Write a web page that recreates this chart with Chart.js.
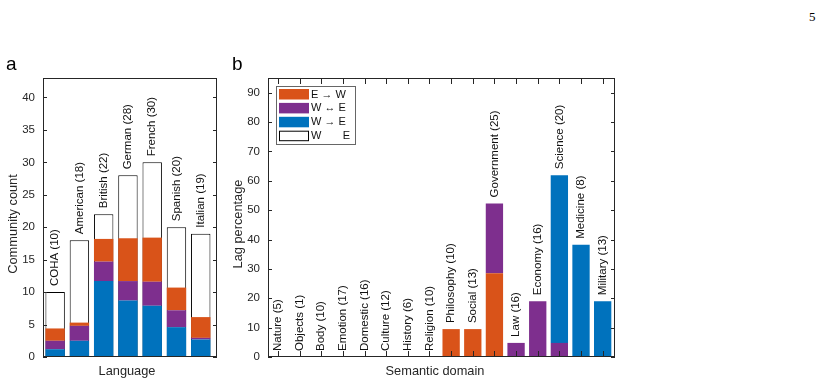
<!DOCTYPE html>
<html>
<head>
<meta charset="utf-8">
<script src="https://cdn.jsdelivr.net/npm/chart.js@4.4.0/dist/chart.umd.min.js"></script>
<style>
    body { margin: 0; background: #fff; width: 829px; height: 385px; position: relative; overflow: hidden; font-family: "Liberation Sans", Arial, sans-serif; }
    .box { position: absolute; top: 0; height: 385px; }
    #boxA { left: 0; width: 225px; }
    #boxB { left: 225px; width: 400px; }
    .tag { position: absolute; font-size: 19px; color: #000; line-height: 1; }
    #page { position: absolute; left: 809px; top: 9px; font-family: "Liberation Serif", serif; font-size: 13px; }
</style>
</head>
<body>
<div class="box" id="boxA"><canvas id="chartA"></canvas></div>
<div class="box" id="boxB"><canvas id="chartB"></canvas></div>
<div class="tag" style="left:6px;top:54px">a</div>
<div class="tag" style="left:232px;top:54px">b</div>
<div id="page">5</div>
<script>
// panel a: communities per language
const languages = ["COHA (10)", "American (18)", "British (22)", "German (28)", "French (30)", "Spanish (20)", "Italian (19)"];
const langTotal = [10, 18, 22, 28, 30, 20, 19];
const langWE = [1.2, 2.5, 11.7, 8.7, 7.9, 4.6, 2.7];
const langBoth = [1.3, 2.3, 3.0, 3.0, 3.7, 2.6, 0.25];
const langEW = [1.9, 0.5, 3.5, 6.6, 6.8, 3.5, 3.2];

// panel b: lag percentage per semantic domain
const domains = ["Nature (5)", "Objects (1)", "Body (10)", "Emotion (17)", "Domestic (16)", "Culture (12)", "History (6)", "Religion (10)",
    "Philosophy (10)", "Social (13)", "Government (25)", "Law (16)", "Economy (16)", "Science (20)", "Medicine (8)", "Military (13)"];
const domEW = [0, 0, 0, 0, 0, 0, 0, 0, 9.5, 9.5, 28.5, 0, 0, 0, 0, 0];
const domBoth = [0, 0, 0, 0, 0, 0, 0, 0, 0, 0, 23.8, 4.8, 19.0, 4.8, 0, 0];
const domWE = [0, 0, 0, 0, 0, 0, 0, 0, 0, 0, 0, 0, 0, 57.1, 38.2, 19.0];

const legendNames = ["E \u2192 W", "W \u2194 E", "W \u2192 E", "W       E"];

const ORANGE = "#D95319", PURPLE = "#7E2F8E", BLUE = "#0072BD";
const INK = "#262626";
const FONT = "Liberation Sans";

function pts(arr) {
    return arr.map((v, i) => ({ x: i + 1, y: v }));
}

const matlabFrame = {
    id: "matlabFrame",
    afterDatasetsDraw(chart, args, opts) {
        const ctx = chart.ctx;
        const a = chart.chartArea;
        const ys = chart.scales.y;
        const L = Math.round(a.left), R = Math.round(a.right), T = Math.round(a.top), B = Math.round(a.bottom);
        ctx.save();
        ctx.fillStyle = INK;
        // box
        ctx.fillRect(L, T, R - L, 1);
        ctx.fillRect(L, B - 1, R - L, 1);
        ctx.fillRect(L, T, 1, B - T);
        ctx.fillRect(R - 1, T, 1, B - T);
        // inward y ticks on both sides
        ys.ticks.forEach(t => {
            const y = Math.round(ys.getPixelForValue(t.value));
            ctx.fillRect(L, y, 4, 1);
            ctx.fillRect(R - 4, y, 4, 1);
        });

        // rotated labels above each bar
        ctx.font = "11.5px " + FONT;
        ctx.textAlign = "left";
        ctx.textBaseline = "middle";
        ctx.fillStyle = "#111";
        const n = chart.data.datasets.length;
        opts.barLabels.forEach((lab, i) => {
            let top = a.bottom, x = 0;
            for (let d = 0; d < n; d++) {
                const el = chart.getDatasetMeta(d).data[i];
                if (!el) continue;
                x = el.x;
                top = Math.min(top, el.y, el.base);
            }
            ctx.save();
            ctx.translate(x, top - 6);
            ctx.rotate(-Math.PI / 2);
            ctx.fillText(lab, 0, 0);
            ctx.restore();
        });

        // axis titles
        ctx.fillStyle = INK;
        ctx.font = "12.8px " + FONT;
        ctx.textAlign = "center";
        ctx.textBaseline = "alphabetic";
        ctx.fillText(opts.xTitle, opts.xTitleX, 375);
        ctx.save();
        ctx.translate(16.5, 224);
        ctx.rotate(-Math.PI / 2);
        ctx.fillText(opts.yTitle, 0, 0);
        ctx.restore();

        // legend inside the axes
        if (opts.legend) {
            const lx = L + 8, ly = T + 8;
            ctx.fillStyle = "#fff";
            ctx.fillRect(lx, ly, 79, 58);
            ctx.strokeStyle = "#666";
            ctx.lineWidth = 1;
            ctx.strokeRect(lx + 0.5, ly + 0.5, 79, 58);
            ctx.font = "11px " + FONT;
            ctx.textAlign = "left";
            ctx.textBaseline = "middle";
            opts.legend.forEach((item, k) => {
                const ry = ly + 3 + k * 13.9;
                ctx.fillStyle = item.color;
                ctx.fillRect(lx + 3, ry, 30, 10.5);
                if (item.color === "#fff") {
                    ctx.strokeStyle = "#000";
                    ctx.strokeRect(lx + 3.5, ry + 0.5, 29, 9.5);
                }
                ctx.fillStyle = "#111";
                ctx.fillText(item.text, lx + 35, ry + 5.5);
            });
        }
        ctx.restore();
    },
    afterDraw(chart, args, opts) {
        // inward category ticks on bottom and top edges
        if (!opts.catTicks) return;
        const ctx = chart.ctx;
        const a = chart.chartArea;
        const xs = chart.scales.x;
        ctx.save();
        ctx.strokeStyle = INK;
        ctx.lineWidth = 1;
        ctx.beginPath();
        opts.barLabels.forEach((lab, i) => {
            const x = Math.round(xs.getPixelForValue(i + 1)) + 0.5;
            ctx.moveTo(x, a.bottom - 1);
            ctx.lineTo(x, a.bottom - 6);
            ctx.moveTo(x, a.top + 1);
            ctx.lineTo(x, a.top + 6);
        });
        ctx.stroke();
        ctx.restore();
    }
};

Chart.register(matlabFrame);

function yAxis(max, step) {
    return {
        stacked: true,
        min: 0,
        max: max,
        ticks: { stepSize: step, includeBounds: false, padding: 8, color: INK, font: { family: FONT, size: 11.5 } },
        grid: { display: false, drawTicks: false },
        border: { display: false },
        afterFit: s => { s.width = 43; }
    };
}

function xAxis(min, max) {
    return { type: "linear", stacked: true, offset: false, min: min, max: max, display: false };
}

function barSet(label, data, color, extra) {
    return Object.assign({
        label: label,
        data: pts(data),
        backgroundColor: color,
        borderWidth: 0,
        stack: "seg",
        grouped: false,
        barPercentage: 0.8,
        categoryPercentage: 1.0,
        order: 0
    }, extra || {});
}

new Chart(document.getElementById("chartA"), {
    type: "bar",
    data: {
        datasets: [
            barSet("W \u2192 E", langWE, BLUE),
            barSet("W \u2194 E", langBoth, PURPLE),
            barSet("E \u2192 W", langEW, ORANGE),
            barSet("total", langTotal, "#fff", { stack: "total", order: 1, borderWidth: 1, borderColor: "#000" })
        ]
    },
    options: {
        responsive: true,
        maintainAspectRatio: false,
        animation: false,
        layout: { padding: { top: 78, right: 8, bottom: 28, left: 0 } },
        scales: {
            x: xAxis(0.5, 7.67),
            y: yAxis(43, 5)
        },
        plugins: {
            legend: { display: false },
            tooltip: { enabled: false },
            matlabFrame: {
                barLabels: languages,
                catTicks: false,
                xTitle: "Language",
                xTitleX: 127,
                yTitle: "Community count"
            }
        }
    }
});

new Chart(document.getElementById("chartB"), {
    type: "bar",
    data: {
        datasets: [
            barSet("E \u2192 W", domEW, ORANGE),
            barSet("W \u2194 E", domBoth, PURPLE),
            barSet("W \u2192 E", domWE, BLUE)
        ]
    },
    options: {
        responsive: true,
        maintainAspectRatio: false,
        animation: false,
        layout: { padding: { top: 78, right: 10, bottom: 28, left: 0 } },
        scales: {
            x: xAxis(0.54, 16.57),
            y: yAxis(95, 10)
        },
        plugins: {
            legend: { display: false },
            tooltip: { enabled: false },
            matlabFrame: {
                barLabels: domains,
                catTicks: true,
                xTitle: "Semantic domain",
                xTitleX: 210,
                yTitle: "Lag percentage",
                legend: [
                    { text: legendNames[0], color: ORANGE },
                    { text: legendNames[1], color: PURPLE },
                    { text: legendNames[2], color: BLUE },
                    { text: legendNames[3], color: "#fff" }
                ]
            }
        }
    }
});
</script>
</body>
</html>
